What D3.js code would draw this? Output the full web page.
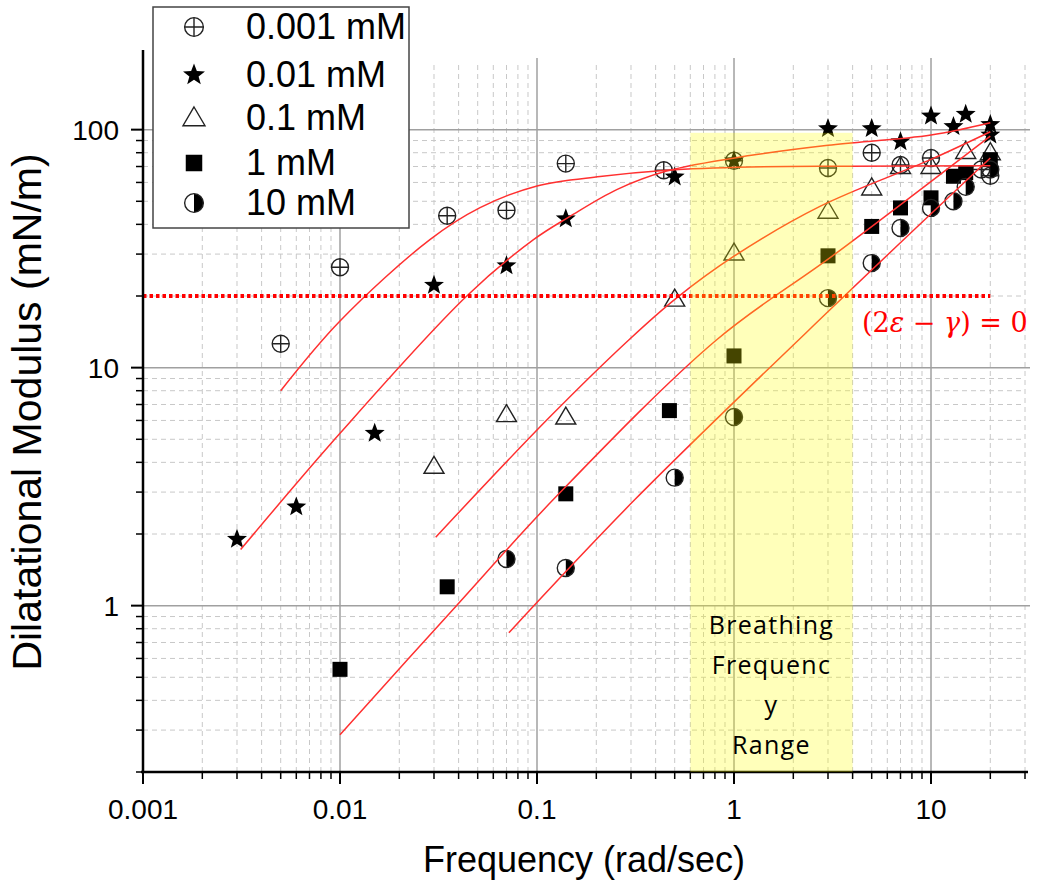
<!DOCTYPE html>
<html><head><meta charset="utf-8">
<script src="https://cdn.jsdelivr.net/npm/d3@7"></script>
<style>body{margin:0;background:#fff}</style>
</head><body><svg id="c" width="1050" height="894"></svg>
<script>
// ---- data ----
const seriesNames = ["0.001 mM", "0.01 mM", "0.1 mM", "1 mM", "10 mM"];
const freq_0001 = [0.005, 0.01, 0.035, 0.07, 0.14, 0.44, 1, 3, 5, 7, 10, 18, 20];
const mod_0001  = [12.6, 26.4, 43.5, 45.8, 72, 67.5, 74, 69, 80, 71, 76, 68, 64];
const freq_001 = [0.003, 0.006, 0.015, 0.03, 0.07, 0.14, 0.5, 1, 3, 5, 7, 10, 13, 15, 20, 20];
const mod_001  = [1.9, 2.6, 5.3, 22.2, 26.8, 42.2, 63.3, 74, 101, 101, 89, 114, 103, 116, 105, 95];
const freq_01 = [0.03, 0.07, 0.14, 0.5, 1, 3, 5, 7, 10, 15, 20];
const mod_01  = [3.85, 6.35, 6.2, 19.4, 30.3, 45.4, 56.9, 70, 70, 81, 80];
const freq_1 = [0.01, 0.035, 0.14, 0.47, 1, 3, 5, 7, 10, 13, 15, 20];
const mod_1  = [0.54, 1.2, 2.95, 6.6, 11.2, 29.5, 39.2, 46.9, 51.7, 63.7, 66, 74.8];
const freq_10 = [0.07, 0.14, 0.5, 1, 3, 5, 7, 10, 13, 15, 20];
const mod_10  = [1.57, 1.44, 3.45, 6.2, 19.6, 27.5, 38.6, 46.9, 50, 57.5, 68];

// fitted curves
const fitF_0001 = [0.005, 0.01, 0.0286, 0.0514, 0.1, 0.209, 0.455, 1.2, 3.88, 20];
const fitE_0001 = [8.0, 15.7, 34.5, 47, 58, 63.5, 67.5, 69.7, 70.2, 70.5];
const fitF_001 = [0.00313, 0.01, 0.044, 0.096, 0.147, 0.254, 0.455, 1.2, 3, 10, 20];
const fitE_001 = [1.72, 5.3, 20, 34.5, 43.2, 56, 67, 77.8, 86, 95, 107];
const fitF_01 = [0.0306, 0.116, 0.296, 0.51, 1, 2.73, 10, 20];
const fitE_01 = [1.94, 6.2, 13.2, 19.6, 29.4, 47.6, 75, 98];
const fitF_1 = [0.01, 0.039, 0.121, 0.817, 3.2, 20];
const fitE_1 = [0.287, 1.0, 2.79, 13.1, 29.7, 94];
const fitF_10 = [0.072, 0.314, 3.07, 20];
const fitE_10 = [0.77, 2.79, 17.5, 76];

const xTickValues = [0.001, 0.01, 0.1, 1, 10];
const xTickLabels = ["0.001", "0.01", "0.1", "1", "10"];
const yTickValues = [1, 10, 100];
const yTickLabels = ["1", "10", "100"];
const thresholdValue = 20;          // (2ε − γ) = 0 line
const thresholdRange = [0.001, 20];
const breathingRange = [0.6, 4];    // rad/sec
const breathingTop = 97;
const xLabel = "Frequency (rad/sec)";
const yLabel = "Dilatational Modulus (mN/m)";
const bandLines = ["Breathing", "Frequenc", "y", "Range"];

// ---- layout ----
const svg = d3.select("#c");
const x = d3.scaleLog().domain([0.001, 30]).range([143, 1025]);
const y = d3.scaleLog().domain([0.2, 200]).range([772, 58]);
const [x0, x1] = x.range();
const [yb, yt] = y.range();

const minorX = [], minorY = [];
[0.001, 0.01, 0.1, 1, 10].forEach(d => { for (let k = 2; k <= 9; k++) { const v = d * k; if (v <= 30) minorX.push(v); } });
[0.1, 1, 10, 100].forEach(d => { for (let k = 2; k <= 9; k++) { const v = d * k; if (v >= 0.2 && v < 200) minorY.push(v); } });

const grid = svg.append("g");
grid.selectAll(".mx").data(minorX).join("line")
  .attr("x1", d => x(d)).attr("x2", d => x(d)).attr("y1", yb).attr("y2", yt + 4)
  .attr("stroke", "#c8c8c8").attr("stroke-width", 1).attr("stroke-dasharray", "5,4");
grid.selectAll(".my").data(minorY).join("line")
  .attr("y1", d => y(d)).attr("y2", d => y(d)).attr("x1", x0).attr("x2", x1)
  .attr("stroke", "#c8c8c8").attr("stroke-width", 1).attr("stroke-dasharray", "5,4");
grid.selectAll(".Mx").data(xTickValues.slice(1)).join("line")
  .attr("x1", d => x(d)).attr("x2", d => x(d)).attr("y1", yb).attr("y2", yt)
  .attr("stroke", "#a0a0a0").attr("stroke-width", 1.5);
grid.selectAll(".My").data(yTickValues).join("line")
  .attr("y1", d => y(d)).attr("y2", d => y(d)).attr("x1", x0).attr("x2", x1 + 5)
  .attr("stroke", "#a0a0a0").attr("stroke-width", 1.5);

// ---- markers ----
function starPath(R) {
  const r = R * 0.42; let p = "";
  for (let i = 0; i < 10; i++) {
    const a = -Math.PI / 2 + i * Math.PI / 5, rr = i % 2 ? r : R;
    p += (i ? "L" : "M") + (rr * Math.cos(a)).toFixed(2) + "," + (rr * Math.sin(a)).toFixed(2);
  }
  return p + "Z";
}
function drawMarker(g, type, s) {
  if (type === 0) {
    g.append("circle").attr("r", 8.5*s).attr("fill", "none").attr("stroke", "#222").attr("stroke-width", 1.4);
    g.append("path").attr("d", `M${-8.5*s},0H${8.5*s}M0,${-8.5*s}V${8.5*s}`).attr("stroke", "#222").attr("stroke-width", 1.4);
  } else if (type === 1) {
    g.append("path").attr("d", starPath(10.5*s)).attr("fill", "#000");
  } else if (type === 2) {
    g.append("path").attr("d", `M0,${-10*s}L${10*s},${7*s}L${-10*s},${7*s}Z`).attr("fill", "none").attr("stroke", "#222").attr("stroke-width", 1.4);
  } else if (type === 3) {
    g.append("rect").attr("x", -7.5*s).attr("y", -7.5*s).attr("width", 15*s).attr("height", 15*s).attr("fill", "#000");
  } else {
    const r = 8.5*s;
    g.append("path").attr("d", `M0,${-r}A${r},${r} 0 0,1 0,${r}Z`).attr("fill", "#000");
    g.append("circle").attr("r", r).attr("fill", "none").attr("stroke", "#222").attr("stroke-width", 1.4);
  }
}

const seriesF = [freq_0001, freq_001, freq_01, freq_1, freq_10];
const seriesE = [mod_0001, mod_001, mod_01, mod_1, mod_10];
const fitsF = [fitF_0001, fitF_001, fitF_01, fitF_1, fitF_10];
const fitsE = [fitE_0001, fitE_001, fitE_01, fitE_1, fitE_10];

const marks = svg.append("g");
seriesF.forEach((fs, si) => {
  fs.forEach((f, i) => {
    const g = marks.append("g").attr("transform", `translate(${x(f)},${y(seriesE[si][i])})`);
    drawMarker(g, si, 1);
  });
});

// ---- fit lines ----
const line = d3.line().x(d => x(d[0])).y(d => y(d[1])).curve(d3.curveCatmullRom.alpha(0.5));
fitsF.forEach((fs, si) => {
  svg.append("path").datum(fs.map((f, i) => [f, fitsE[si][i]]))
    .attr("d", line).attr("fill", "none").attr("stroke", "#ff3030").attr("stroke-width", 1.5);
});

// threshold dotted line
svg.append("line").attr("x1", x(thresholdRange[0])).attr("x2", x(thresholdRange[1]))
  .attr("y1", y(thresholdValue)).attr("y2", y(thresholdValue))
  .attr("stroke", "#ff0000").attr("stroke-width", 4).attr("stroke-dasharray", "3.5,3");

// ---- axes ----
const FONT = "Liberation Sans, Arial, sans-serif";
const xAxis = svg.append("g");
xAxis.append("line").attr("x1", x0 - 2).attr("x2", x1 + 3).attr("y1", yb).attr("y2", yb).attr("stroke", "#000").attr("stroke-width", 2.5);
xAxis.selectAll(".t").data(xTickValues).join("line").attr("x1", d => x(d)).attr("x2", d => x(d)).attr("y1", yb).attr("y2", yb + 12).attr("stroke", "#000").attr("stroke-width", 2);
xAxis.selectAll(".mt").data(minorX).join("line").attr("x1", d => x(d)).attr("x2", d => x(d)).attr("y1", yb).attr("y2", yb + 7).attr("stroke", "#000").attr("stroke-width", 1.5);
xAxis.selectAll(".l").data(xTickValues).join("text").attr("x", d => x(d)).attr("y", yb + 47)
  .attr("text-anchor", "middle").attr("font-family", FONT).attr("font-size", 28)
  .text((d, i) => xTickLabels[i]);

const yAxis = svg.append("g");
yAxis.append("line").attr("x1", x0).attr("x2", x0).attr("y1", yb + 1).attr("y2", yt - 8).attr("stroke", "#000").attr("stroke-width", 2.5);
yAxis.selectAll(".t").data(yTickValues).join("line").attr("y1", d => y(d)).attr("y2", d => y(d)).attr("x1", x0).attr("x2", x0 - 12).attr("stroke", "#000").attr("stroke-width", 2);
yAxis.selectAll(".mt").data(minorY).join("line").attr("y1", d => y(d)).attr("y2", d => y(d)).attr("x1", x0).attr("x2", x0 - 7).attr("stroke", "#000").attr("stroke-width", 1.5);
yAxis.selectAll(".l").data(yTickValues).join("text").attr("x", x0 - 24).attr("y", d => y(d) + 10)
  .attr("text-anchor", "end").attr("font-family", FONT).attr("font-size", 28)
  .text((d, i) => yTickLabels[i]);

svg.append("text").attr("x", 584).attr("y", 872).attr("text-anchor", "middle")
  .attr("font-family", FONT).attr("font-size", 36).text(xLabel);
svg.append("text").attr("transform", `translate(41,412) rotate(-90)`).attr("text-anchor", "middle")
  .attr("font-family", FONT).attr("font-size", 41).text(yLabel);

// ---- breathing band (translucent yellow over everything) ----
svg.append("rect").attr("x", x(breathingRange[0])).attr("width", x(breathingRange[1]) - x(breathingRange[0]))
  .attr("y", y(breathingTop)).attr("height", yb - y(breathingTop))
  .attr("fill", "#ffff00").attr("fill-opacity", 0.27);
const bandCx = (x(breathingRange[0]) + x(breathingRange[1])) / 2;
svg.append("g").selectAll("text").data(bandLines).join("text")
  .attr("x", bandCx).attr("y", (d, i) => 634 + i * 40).attr("text-anchor", "middle")
  .attr("font-family", "Open Sans, sans-serif").attr("font-size", 25).attr("letter-spacing", 1.3)
  .text(d => d);

// annotation
const ann = svg.append("text").attr("x", 862).attr("y", 332).attr("fill", "#ff0000")
  .attr("font-family", "DejaVu Serif, Liberation Serif, serif").attr("font-size", 27);
ann.append("tspan").text("(2");
ann.append("tspan").attr("font-style", "italic").text("ε");
ann.append("tspan").text(" − ");
ann.append("tspan").attr("font-style", "italic").text("γ");
ann.append("tspan").text(") = 0");

// ---- legend ----
const leg = svg.append("g");
leg.append("rect").attr("x", 153).attr("y", 7).attr("width", 256).attr("height", 221)
  .attr("fill", "#fff").attr("stroke", "#444").attr("stroke-width", 1.5);
const legY = [27, 75, 118, 163, 203];
seriesNames.forEach((n, i) => {
  const g = leg.append("g").attr("transform", `translate(194,${legY[i]})`);
  drawMarker(g, i, 1.1);
  leg.append("text").attr("x", 246).attr("y", legY[i] + 12).attr("font-family", FONT)
    .attr("font-size", 36).text(n);
});
</script></body></html>
